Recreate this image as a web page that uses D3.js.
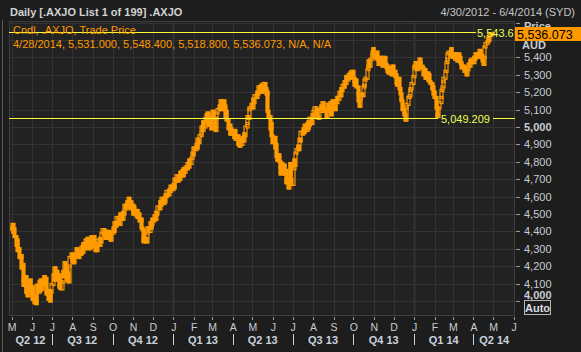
<!DOCTYPE html>
<html>
<head>
<meta charset="utf-8">
<script src="https://cdn.jsdelivr.net/npm/d3@7"></script>
<style>
  body { margin: 0; background: #1d1d1d; }
  svg { display: block; font-family: "Liberation Sans", Arial, sans-serif; }
</style>
</head>
<body>
<div id="chart"></div>
<script>
// daily closes of .AXJO, one row per trading week (Mon..Fri) from Mon 30 Apr 2012
const closes = [
  4420, 4440, 4395, 4415, 4370,  4320, 4350, 4290, 4300, 4250,  4260, 4190, 4210, 4120, 4090,
  4140, 4050, 4110, 4030, 4080,  4120, 4060, 4040, 4080, 4010,  3990, 4030, 3985, 4090, 4050,
  4110, 4060, 4120, 4070, 4120,  4140, 4090, 4130, 4060, 4040,  4010, 4060, 4000, 4050, 4095,
  4150, 4120, 4190, 4140, 4170,  4120, 4150, 4080, 4110, 4070,  4110, 4170, 4140, 4220, 4180,
  4120, 4160, 4110, 4200, 4250,  4270, 4230, 4260, 4220, 4270,  4300, 4260, 4290, 4250, 4290,
  4270, 4310, 4280, 4330, 4300,  4350, 4310, 4340, 4360, 4300,  4340, 4310, 4370, 4330, 4370,
  4320, 4290, 4330, 4290, 4350,  4320, 4360, 4340, 4390, 4410,  4380, 4400, 4360, 4390, 4370,
  4400, 4360, 4380, 4350, 4390,  4420, 4400, 4450, 4430, 4480,  4450, 4470, 4440, 4500, 4490,
  4470, 4510, 4500, 4550, 4530,  4570, 4550, 4590, 4540, 4570,  4530, 4550, 4500, 4540, 4510,
  4490, 4520, 4480, 4500, 4460,  4470, 4420, 4410, 4350, 4340,  4360, 4340, 4390, 4420, 4400,
  4450, 4420, 4440, 4470, 4460,  4490, 4470, 4510, 4500, 4540,  4530, 4570, 4550, 4590, 4560,
  4590, 4570, 4610, 4600, 4630,  4610, 4640, 4630, 4660, 4640,  4670, 4650, 4700, 4690, 4720,
  4690, 4720, 4700, 4740, 4720,  4750, 4720, 4760, 4740, 4770,  4760, 4790, 4770, 4810, 4790,
  4820, 4850, 4840, 4880, 4870,  4900, 4880, 4930, 4910, 4950,  4960, 5000, 4980, 5030, 5000,
  5050, 5070, 5030, 5080, 5010,  5060, 4990, 5030, 5090, 5050,  5000, 4980, 5050, 5080, 5100,
  5120, 5100, 5150, 5120, 5150,  5100, 5120, 5060, 5090, 5040,  4990, 5010, 4960, 4990, 4960,
  4970, 4940, 4980, 4930, 4950,  4900, 4930, 4890, 4920, 4900,  4940, 4920, 4960, 4950, 5000,
  5020, 5060, 5050, 5100, 5110,  5130, 5110, 5160, 5140, 5180,  5170, 5200, 5190, 5230, 5210,
  5240, 5200, 5230, 5210, 5250,  5220, 5190, 5200, 5090, 5060,  4990, 5020, 4950, 4910, 4940,
  4880, 4900, 4830, 4810, 4840,  4800, 4770, 4730, 4790, 4750,  4780, 4730, 4750, 4680, 4700,
  4650, 4730, 4790, 4700, 4670,  4760, 4810, 4780, 4850, 4870,  4890, 4870, 4930, 4920, 4970,
  4960, 4990, 4970, 5010, 4980,  5020, 4990, 5030, 5010, 5050,  5020, 5070, 5060, 5090, 5110,
  5080, 5100, 5060, 5050, 5090,  5120, 5100, 5140, 5110, 5090,  5100, 5060, 5090, 5130, 5100,
  5140, 5070, 5110, 5150, 5120,  5100, 5150, 5140, 5170, 5160,  5200, 5180, 5220, 5210, 5240,
  5230, 5260, 5250, 5290, 5270,  5300, 5280, 5310, 5290, 5320,  5280, 5260, 5240, 5270, 5230,
  5190, 5150, 5120, 5160, 5190,  5180, 5230, 5240, 5270, 5280,  5330, 5350, 5380, 5350, 5390,
  5410, 5430, 5450, 5420, 5400,  5430, 5390, 5400, 5360, 5380,  5400, 5370, 5350, 5380, 5400,
  5360, 5340, 5350, 5320, 5310,  5340, 5310, 5300, 5350, 5320,  5290, 5300, 5250, 5240, 5280,
  5220, 5190, 5160, 5150, 5100,  5080, 5070, 5040, 5110, 5130,  5170, 5180, 5210, 5220, 5250,
  5290, 5340, 5350, 5370, 5330,  5360, 5340, 5390, 5370, 5350,  5340, 5300, 5310, 5330, 5280,
  5310, 5270, 5300, 5260, 5250,  5220, 5230, 5190, 5200, 5170,  5110, 5070, 5060, 5110, 5140,
  5170, 5210, 5230, 5260, 5280,  5320, 5370, 5390, 5420, 5430,  5410, 5450, 5420, 5400, 5420,
  5390, 5420, 5410, 5380, 5420,  5400, 5370, 5360, 5340, 5350,  5320, 5340, 5330, 5300, 5330,
  5360, 5350, 5380, 5370, 5390,  5370, 5400, 5390, 5420, 5400,  5420, 5400, 5440, 5430, 5410,
  5380, 5360, 5400, 5460, 5480,  5490, 5510, 5500, 5530, 5531,
  5536.073
];
const firstDay = "2012-04-30";
const lastBar = {date: "4/28/2014", open: 5531.000, high: 5548.400, low: 5518.800, close: 5536.073};

const highLine = 5543.6;
const lowLine = 5049.209;

const priceLabels = [4000, 4100, 4200, 4300, 4400, 4500, 4600, 4700, 4800, 4900, 5000, 5100, 5200, 5300, 5400];
const boldLabels = [4000, 5000];
const monthLetters = ["J", "F", "M", "A", "M", "J", "J", "A", "S", "O", "N", "D"];
const dateRange = ["2012-04-27", "2014-06-03"];

class CandleChart {
    constructor(parentElement) {
        this.parentElement = parentElement;
        this.initVis();
    }

    initVis() {
        let vis = this;

        vis.W = 581;
        vis.H = 352;
        vis.plot = {left: 9, right: 515, top: 21, bottom: 316};

        vis.svg = d3.select("#" + vis.parentElement).append("svg")
            .attr("width", vis.W)
            .attr("height", vis.H);

        vis.svg.append("rect")
            .attr("width", vis.W).attr("height", vis.H)
            .attr("fill", "#1d1d1d");

        // trading days: weekdays from the first day
        let parse = d3.timeParse("%Y-%m-%d");
        vis.days = [];
        let d = parse(firstDay);
        while (vis.days.length < closes.length) {
            if (d.getDay() !== 0 && d.getDay() !== 6) vis.days.push(new Date(d.getTime() + 12 * 3600e3));
            d = d3.timeDay.offset(d, 1);
        }
        vis.data = closes.map((c, i) => ({
            date: vis.days[i],
            open: i === 0 ? c : closes[i - 1],
            close: c
        }));
        let last = vis.data[vis.data.length - 1];
        last.open = lastBar.open;
        last.high = lastBar.high;
        last.low = lastBar.low;

        vis.x = d3.scaleTime()
            .domain(dateRange.map(parse))
            .range([vis.plot.left, vis.plot.right]);
        vis.y = d3.scaleLinear()
            .domain([4000, 5000])
            .range([301, 127]);

        vis.drawFrame();
        vis.drawCandles();
        vis.drawText();
    }

    drawFrame() {
        let vis = this;
        let p = vis.plot;

        vis.svg.append("line")
            .attr("x1", 2.5).attr("x2", 2.5).attr("y1", 20).attr("y2", vis.H)
            .attr("stroke", "#5a5a5a");

        vis.svg.append("rect")
            .attr("x", p.left).attr("y", p.top)
            .attr("width", p.right - p.left).attr("height", p.bottom - p.top)
            .attr("fill", "#222222");

        let months = d3.timeMonth.range(vis.x.domain()[0], vis.x.domain()[1]);
        vis.months = months;

        vis.svg.append("g").selectAll("line")
            .data(months)
            .enter().append("line")
            .attr("x1", d => Math.round(vis.x(d)) + 0.5)
            .attr("x2", d => Math.round(vis.x(d)) + 0.5)
            .attr("y1", p.top).attr("y2", p.bottom)
            .attr("stroke", "#333333")
            .attr("stroke-width", d => d.getMonth() === 0 ? 2 : 1);

        let gridVals = d3.range(3900, 5700, 100).filter(v => vis.y(v) > p.top && vis.y(v) < p.bottom);
        vis.svg.append("g").selectAll("line")
            .data(gridVals)
            .enter().append("line")
            .attr("x1", p.left).attr("x2", p.right)
            .attr("y1", v => Math.round(vis.y(v)) + 0.5)
            .attr("y2", v => Math.round(vis.y(v)) + 0.5)
            .attr("stroke", "#333333");

        vis.svg.append("rect")
            .attr("x", p.left + 0.5).attr("y", p.top + 0.5)
            .attr("width", p.right - p.left - 1).attr("height", p.bottom - p.top - 1)
            .attr("fill", "none")
            .attr("stroke", "#3e3e3e");

        // y ticks
        vis.svg.append("g").selectAll("line")
            .data(gridVals)
            .enter().append("line")
            .attr("x1", p.right + 1).attr("x2", p.right + 5)
            .attr("y1", v => Math.round(vis.y(v)) + 0.5)
            .attr("y2", v => Math.round(vis.y(v)) + 0.5)
            .attr("stroke", "#9a9a9a");

        // x ticks
        vis.svg.append("g").selectAll("line")
            .data(months)
            .enter().append("line")
            .attr("x1", d => Math.round(vis.x(d)) + 0.5)
            .attr("x2", d => Math.round(vis.x(d)) + 0.5)
            .attr("y1", p.bottom + 1).attr("y2", p.bottom + 4)
            .attr("stroke", "#9a9a9a");
    }

    drawCandles() {
        let vis = this;
        let p = vis.plot;
        let orange = "#ff9c00";

        vis.svg.append("clipPath").attr("id", "clip")
            .append("rect")
            .attr("x", p.left + 1).attr("y", p.top + 1)
            .attr("width", p.right - p.left - 2).attr("height", p.bottom - p.top - 2);

        let g = vis.svg.append("g").attr("clip-path", "url(#clip)");

        g.selectAll("line.wick")
            .data(vis.data.filter(d => d.high !== undefined))
            .enter().append("line")
            .attr("class", "wick")
            .attr("x1", d => Math.round(vis.x(d.date)) + 0.5)
            .attr("x2", d => Math.round(vis.x(d.date)) + 0.5)
            .attr("y1", d => vis.y(d.high))
            .attr("y2", d => vis.y(d.low))
            .attr("stroke", orange);

        g.selectAll("rect.candle")
            .data(vis.data)
            .enter().append("rect")
            .attr("class", "candle")
            .attr("x", d => Math.round(vis.x(d.date)) - 1)
            .attr("width", 3)
            .attr("y", d => vis.y(Math.max(d.open, d.close)) - 1)
            .attr("height", d => Math.max(1, Math.abs(vis.y(d.open) - vis.y(d.close))) + 2)
            .attr("fill", d => d.close >= d.open ? "none" : orange)
            .attr("stroke", orange)
            .attr("stroke-width", 1.2);

        // high / low reference lines
        let yHi = Math.round(vis.y(highLine)) + 0.5;
        let yLo = Math.round(vis.y(lowLine)) + 0.5;
        let yellow = "#ffff33";
        vis.svg.append("line")
            .attr("x1", p.left).attr("x2", 476).attr("y1", yHi).attr("y2", yHi)
            .attr("stroke", yellow);
        vis.svg.append("line")
            .attr("x1", p.left).attr("x2", 438).attr("y1", yLo).attr("y2", yLo)
            .attr("stroke", yellow);
        vis.svg.append("line")
            .attr("x1", 493).attr("x2", p.right).attr("y1", yLo).attr("y2", yLo)
            .attr("stroke", yellow);

        vis.svg.append("text")
            .attr("x", 477).attr("y", yHi + 4)
            .attr("font-size", 11).attr("fill", "#eaff55")
            .text(d3.format(",.1f")(highLine));
        vis.svg.append("text")
            .attr("x", 441).attr("y", yLo + 4)
            .attr("font-size", 11).attr("fill", "#eaff55")
            .text(d3.format(",.3f")(lowLine));
    }

    drawText() {
        let vis = this;
        let p = vis.plot;
        let fmt = d3.format(",");
        let fmt3 = d3.format(",.3f");

        vis.svg.append("text")
            .attr("x", 10).attr("y", 16)
            .attr("font-size", 11).attr("font-weight", "bold")
            .attr("fill", "#d2d2d2")
            .text("Daily [.AXJO List 1 of 199] .AXJO");
        vis.svg.append("text")
            .attr("x", 575).attr("y", 16)
            .attr("text-anchor", "end")
            .attr("font-size", 11).attr("fill", "#c4c4c4")
            .text("4/30/2012 - 6/4/2014 (SYD)");

        vis.svg.append("text")
            .attr("x", 13).attr("y", 34)
            .attr("font-size", 11).attr("fill", "#ff9900")
            .text("Cndl, .AXJO, Trade Price");
        vis.svg.append("text")
            .attr("x", 13).attr("y", 48)
            .attr("font-size", 11).attr("fill", "#ff9900")
            .text([lastBar.date, fmt3(lastBar.open), fmt3(lastBar.high), fmt3(lastBar.low), fmt3(lastBar.close), "N/A", "N/A"].join(", "));

        // price axis labels ("Price" sits partly under the last-price box, as in the original)
        vis.svg.append("text")
            .attr("x", 524).attr("y", 30)
            .attr("font-size", 11).attr("font-weight", "bold").attr("fill", "#c8ccd2")
            .text("Price");
        vis.svg.append("rect")
            .attr("x", 515).attr("y", 27).attr("width", 66).attr("height", 14)
            .attr("fill", "#ff9900");
        vis.svg.append("text")
            .attr("x", 517).attr("y", 38.5)
            .attr("font-size", 12.5).attr("fill", "#000")
            .text(fmt3(lastBar.close));
        vis.svg.append("text")
            .attr("x", 522).attr("y", 49)
            .attr("font-size", 11).attr("font-weight", "bold").attr("fill", "#c8ccd2")
            .text("AUD");

        vis.svg.append("g").selectAll("text")
            .data(priceLabels)
            .enter().append("text")
            .attr("x", 524)
            .attr("y", v => Math.min(vis.y(v), 295) + 4)
            .attr("font-size", 11)
            .attr("font-weight", v => boldLabels.includes(v) ? "bold" : "normal")
            .attr("fill", "#c8ccd2")
            .text(v => fmt(v));

        vis.svg.append("rect")
            .attr("x", 524.5).attr("y", 300.5).attr("width", 26).attr("height", 14)
            .attr("fill", "none").attr("stroke", "#b8b8b8");
        vis.svg.append("text")
            .attr("x", 537.5).attr("y", 311.5)
            .attr("text-anchor", "middle")
            .attr("font-size", 11).attr("font-weight", "bold").attr("fill", "#d8dce2")
            .text("Auto");

        // month letters
        vis.svg.append("g").selectAll("text")
            .data(vis.months)
            .enter().append("text")
            .attr("x", d => vis.x(d) + 0.5)
            .attr("y", 331)
            .attr("text-anchor", "middle")
            .attr("font-size", 10.5).attr("fill", "#c8ccd2")
            .text(d => monthLetters[d.getMonth()]);

        // quarters
        let [d0, d1] = vis.x.domain();
        let quarters = d3.timeMonth.every(3).range(d3.timeMonth.every(3).floor(d0), d1);
        let qData = quarters.map(q => {
            let a = Math.max(vis.x(q), p.left);
            let b = Math.min(vis.x(d3.timeMonth.offset(q, 3)), p.right);
            return {q: q, start: vis.x(q), mid: (a + b) / 2};
        });
        let qfmt = q => "Q" + (Math.floor(q.getMonth() / 3) + 1) + " " + d3.timeFormat("%y")(q);

        vis.svg.append("g").selectAll("text")
            .data(qData)
            .enter().append("text")
            .attr("x", d => d.mid)
            .attr("y", 344)
            .attr("text-anchor", "middle")
            .attr("font-size", 11).attr("font-weight", "bold").attr("fill", "#c8d2dc")
            .text(d => qfmt(d.q));

        vis.svg.append("g").selectAll("line")
            .data(qData.filter(d => d.start > p.left))
            .enter().append("line")
            .attr("x1", d => Math.round(d.start) + 0.5)
            .attr("x2", d => Math.round(d.start) + 0.5)
            .attr("y1", 334).attr("y2", 345)
            .attr("stroke", "#c8d2dc");
    }
}

new CandleChart("chart");
</script>
</body>
</html>
